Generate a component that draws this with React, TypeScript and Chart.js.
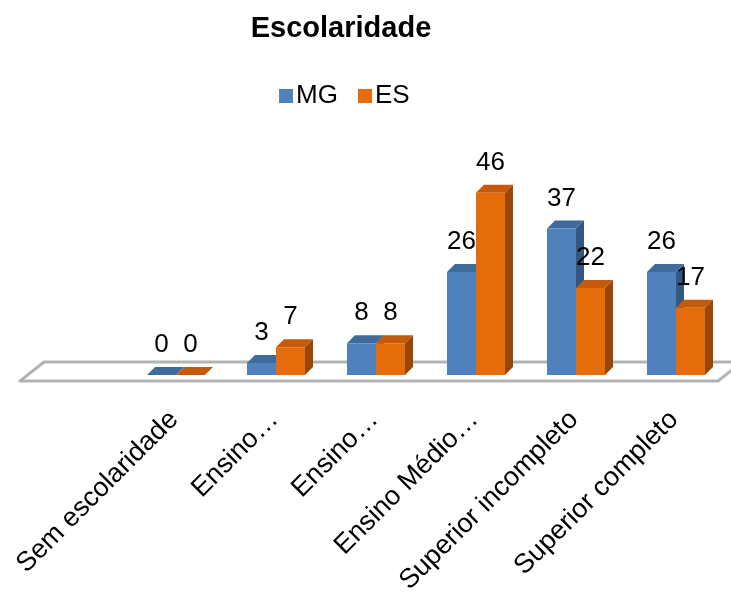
import React, { useEffect, useRef } from 'react';
import { Chart, registerables } from 'chart.js';

Chart.register(...registerables);

const categories = ['Sem escolaridade', 'Ensino…', 'Ensino…', 'Ensino Médio…', 'Superior incompleto', 'Superior completo'];
const seriesNames = ['MG', 'ES'];
const mgValues = [0, 3, 8, 26, 37, 26];
const esValues = [0, 7, 8, 46, 22, 17];

const FRONT = ['#4F81BD', '#E46C0A'];
const TOP = ['#3E6A9C', '#C45A0A'];
const SIDE = ['#345780', '#984706'];
const DX = 8;
const DY = -8;
const SANS = '"Liberation Sans", Arial, sans-serif';
const NARROW = '"Liberation Sans Narrow", "Liberation Sans", Arial, sans-serif';

function makeSwatch(color: string) {
  const c = document.createElement('canvas');
  c.width = 21;
  c.height = 14;
  const g = c.getContext('2d')!;
  g.fillStyle = color;
  g.fillRect(7, 0, 14, 14);
  return c;
}

function poly(ctx: CanvasRenderingContext2D, pts: number[][], color: string) {
  ctx.beginPath();
  ctx.moveTo(pts[0][0], pts[0][1]);
  for (let i = 1; i < pts.length; i++) ctx.lineTo(pts[i][0], pts[i][1]);
  ctx.closePath();
  ctx.fillStyle = color;
  ctx.fill();
}

const threeD = {
  id: 'threeD',
  afterLayout(chart: any) {
    if (chart.titleBlock) {
      chart.titleBlock.left = 0;
      chart.titleBlock.right = 682;
    }
    if (chart.legend) {
      chart.legend.left = 0;
      chart.legend.right = 691.6;
    }
  },
  beforeDatasetsDraw(chart: any) {
    const ctx: CanvasRenderingContext2D = chart.ctx;
    const area = chart.chartArea;
    const base = chart.scales.y.getPixelForValue(0);
    // floor
    const fl = area.left - 106;
    const fr = area.right - 8;
    const fy = base + 6;
    const by = base - 13;
    const fdx = 24;
    const pts = [
      [fl, fy],
      [fr, fy],
      [fr + fdx, by],
      [fl + fdx, by],
    ];
    ctx.save();
    poly(ctx, pts, '#FFFFFF');
    ctx.beginPath();
    ctx.moveTo(pts[0][0], pts[0][1]);
    for (let i = 1; i < 4; i++) ctx.lineTo(pts[i][0], pts[i][1]);
    ctx.closePath();
    ctx.lineJoin = 'round';
    ctx.strokeStyle = '#DADADA';
    ctx.lineWidth = 4;
    ctx.stroke();
    ctx.strokeStyle = '#A6A6A6';
    ctx.lineWidth = 1.6;
    ctx.stroke();
    // 3D faces
    chart.data.datasets.forEach((_ds: any, di: number) => {
      const meta = chart.getDatasetMeta(di);
      meta.data.forEach((el: any) => {
        const { x, y, base: b, width } = el.getProps(['x', 'y', 'base', 'width'], true);
        const l = x - width / 2;
        const r = x + width / 2;
        poly(ctx, [[l, y], [r, y], [r + DX, y + DY], [l + DX, y + DY]], TOP[di]);
        poly(ctx, [[r, y], [r + DX, y + DY], [r + DX, b + DY], [r, b]], SIDE[di]);
      });
    });
    ctx.restore();
  },
  afterDatasetsDraw(chart: any) {
    const ctx: CanvasRenderingContext2D = chart.ctx;
    ctx.save();
    ctx.fillStyle = '#000';
    ctx.font = '26px ' + NARROW;
    ctx.textAlign = 'center';
    ctx.textBaseline = 'middle';
    chart.data.datasets.forEach((ds: any, di: number) => {
      const meta = chart.getDatasetMeta(di);
      meta.data.forEach((el: any, i: number) => {
        const { x, y } = el.getProps(['x', 'y'], true);
        ctx.fillText(String(ds.data[i]), x, y - 30);
      });
    });
    ctx.restore();
  },
};

export default function App() {
  const ref = useRef<HTMLCanvasElement>(null);
  useEffect(() => {
    if (!ref.current) return;
    const swatches = [makeSwatch(FRONT[0]), makeSwatch(FRONT[1])];
    const chart = new Chart(ref.current, {
      type: 'bar',
      data: {
        labels: categories,
        datasets: [
          { label: seriesNames[0], data: mgValues, backgroundColor: FRONT[0], borderWidth: 0, categoryPercentage: 0.58, barPercentage: 1 },
          { label: seriesNames[1], data: esValues, backgroundColor: FRONT[1], borderWidth: 0, categoryPercentage: 0.58, barPercentage: 1 },
        ],
      },
      options: {
        responsive: false,
        animation: false,
        devicePixelRatio: 1,
        layout: { padding: { left: 126, right: 5, top: 0, bottom: 0 } },
        plugins: {
          tooltip: { enabled: false },
          title: {
            display: true,
            text: 'Escolaridade',
            color: '#000',
            font: { family: SANS, size: 29, weight: 'bold' },
            padding: { top: 12, bottom: 13 },
          },
          legend: {
            display: true,
            labels: {
              usePointStyle: true,
              boxWidth: 1,
              boxHeight: 14,
              padding: 23,
              color: '#000',
              font: { family: SANS, size: 26 },
              generateLabels: (c: any) =>
                (Chart.defaults.plugins.legend.labels.generateLabels as any)(c).map((it: any, i: number) => ({
                  ...it,
                  pointStyle: swatches[i],
                })),
            },
          },
        },
        scales: {
          x: {
            grid: { display: false },
            border: { display: false },
            ticks: {
              autoSkip: false,
              maxRotation: 45,
              minRotation: 45,
              color: '#000',
              padding: 21,
              labelOffset: -2,
              font: { family: SANS, size: 27 },
            },
            afterFit: (s: any) => {
              s.height = 228;
              s.paddingLeft = 0;
              s.paddingRight = 0;
            },
          },
          y: { display: false, min: 0, max: 64.7 },
        },
      },
      plugins: [threeD],
    } as any);
    return () => chart.destroy();
  }, []);
  return (
    <div style={{ position: 'fixed', left: 0, top: 0, width: 731, height: 603, background: '#fff' }}>
      <canvas ref={ref} width={731} height={603} style={{ display: 'block' }} />
    </div>
  );
}
